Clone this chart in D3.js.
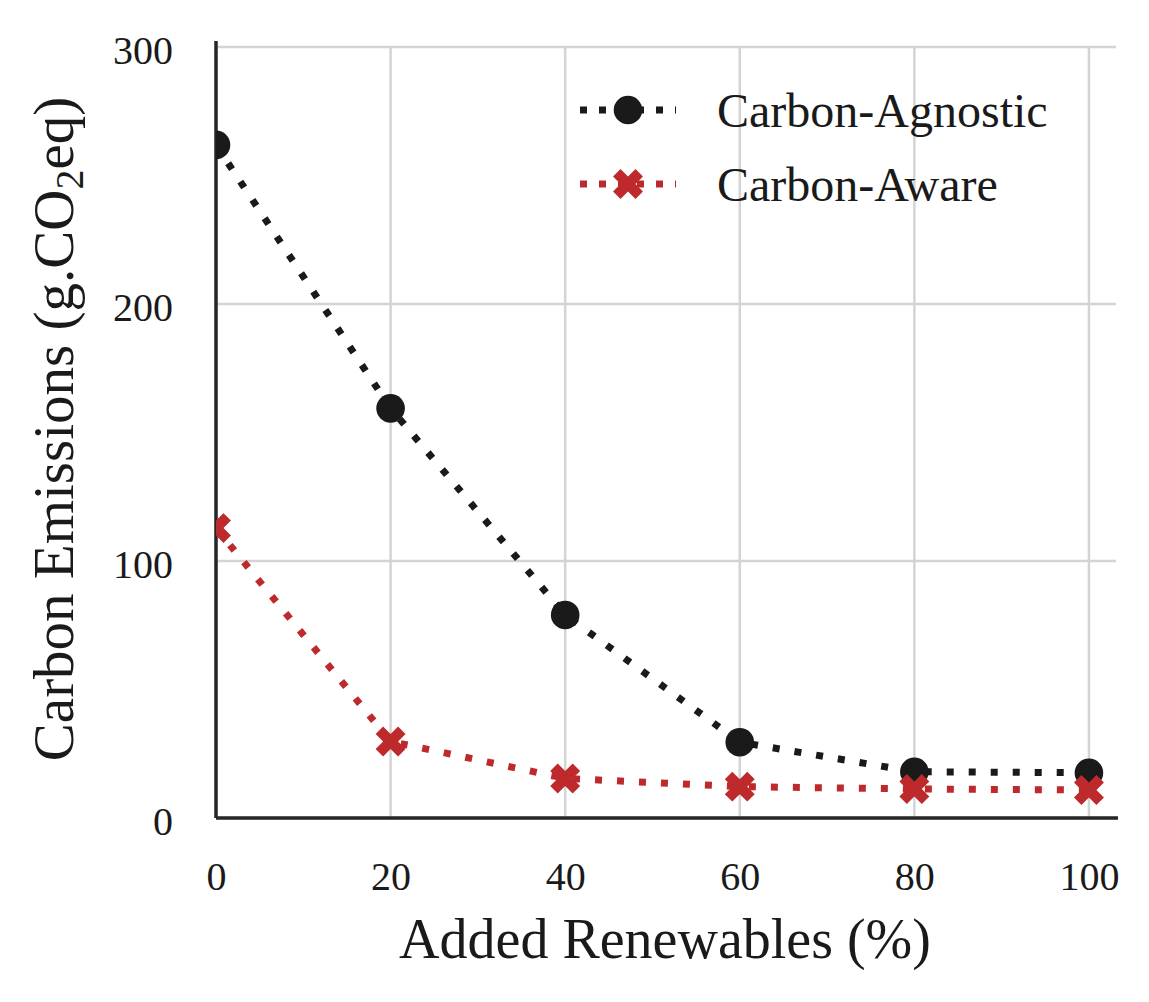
<!DOCTYPE html>
<html>
<head>
<meta charset="utf-8">
<script src="https://cdn.jsdelivr.net/npm/d3@7"></script>
<style>
  body { margin: 0; background: #fff; }
  text { font-family: "Liberation Serif", "DejaVu Serif", serif; fill: #1a1a1a; }
</style>
</head>
<body>
<div id="chart"></div>
<script>
// data
var renewables = [0, 20, 40, 60, 80, 100];
var agnosticVals = [261.9, 159.4, 79.0, 29.5, 18.0, 17.6];
var awareVals = [112.8, 29.8, 15.4, 12.2, 11.3, 10.9];
var seriesNames = ["Carbon-Agnostic", "Carbon-Aware"];
var xTicks = [0, 20, 40, 60, 80, 100];
var yTicks = [0, 100, 200, 300];

var svgWidth = 1149;
var svgHeight = 1002;
var margin = { top: 47, right: 33, bottom: 184, left: 216 };
var width = svgWidth - margin.left - margin.right;
var height = svgHeight - margin.top - margin.bottom;

var black = "#1a1a1a";
var red = "#be2a2c";

var svg = d3.select("#chart")
  .append("svg")
  .attr("width", svgWidth)
  .attr("height", svgHeight);

svg.append("defs").append("clipPath")
  .attr("id", "plotClip")
  .append("rect")
  .attr("width", width)
  .attr("height", height);

var chartGroup = svg.append("g")
  .attr("transform", `translate(${margin.left}, ${margin.top})`);

var xScale = d3.scaleLinear().domain([0, 103.1]).range([0, width]);
var yScale = d3.scaleLinear().domain([0, 300]).range([height, 0]);

// grid
chartGroup.append("g")
  .selectAll("line.vgrid")
  .data(xTicks)
  .enter()
  .append("line")
  .attr("x1", d => xScale(d))
  .attr("x2", d => xScale(d))
  .attr("y1", 0)
  .attr("y2", height)
  .attr("stroke", "#d4d4d4")
  .attr("stroke-width", 2.5);

chartGroup.append("g")
  .selectAll("line.hgrid")
  .data(yTicks)
  .enter()
  .append("line")
  .attr("x1", 0)
  .attr("x2", width)
  .attr("y1", d => yScale(d))
  .attr("y2", d => yScale(d))
  .attr("stroke", "#d4d4d4")
  .attr("stroke-width", 2.5);

// axes (only tick labels, no tick marks)
var bottomAxis = d3.axisBottom(xScale).tickValues(xTicks).tickSize(0).tickPadding(44);
var leftAxis = d3.axisLeft(yScale).tickValues(yTicks).tickSize(0).tickPadding(43);

var xAxis = chartGroup.append("g")
  .attr("transform", `translate(0, ${height})`)
  .call(bottomAxis);
var yAxis = chartGroup.append("g").call(leftAxis);

[xAxis, yAxis].forEach(function(ax) {
  ax.select(".domain").remove();
  ax.selectAll("text")
    .attr("font-family", "Liberation Serif")
    .attr("font-size", 40)
    .attr("fill", black);
});
yAxis.selectAll("text").attr("dy", "0.42em");

// spines
chartGroup.append("line")
  .attr("x1", 0).attr("x2", 0)
  .attr("y1", -6).attr("y2", height)
  .attr("stroke", "#262626").attr("stroke-width", 3.5);
chartGroup.append("line")
  .attr("x1", 0).attr("x2", width + 2)
  .attr("y1", height).attr("y2", height)
  .attr("stroke", "#262626").attr("stroke-width", 3.5);

// series
var series = [
  { name: seriesNames[0], values: agnosticVals, color: black, marker: "circle" },
  { name: seriesNames[1], values: awareVals, color: red, marker: "x" }
];

var line = d3.line()
  .x((d, i) => xScale(renewables[i]))
  .y(d => yScale(d));

var xPath = d3.symbol().type(d3.symbolCross).size(560);

function drawMarker(g, s) {
  if (s.marker === "circle") {
    g.append("circle").attr("r", 14.3).attr("fill", s.color);
  } else {
    g.append("path").attr("d", xPath()).attr("transform", "rotate(45)").attr("fill", s.color);
  }
}

var plotGroup = chartGroup.append("g").attr("clip-path", "url(#plotClip)");

series.forEach(function(s) {
  plotGroup.append("path")
    .datum(s.values)
    .attr("d", line)
    .attr("fill", "none")
    .attr("stroke", s.color)
    .attr("stroke-width", 7)
    .attr("stroke-dasharray", "7,15");
});

series.forEach(function(s) {
  plotGroup.selectAll(null)
    .data(s.values)
    .enter()
    .append("g")
    .attr("transform", (d, i) => `translate(${xScale(renewables[i])}, ${yScale(d)})`)
    .each(function() { drawMarker(d3.select(this), s); });
});

// legend
var legend = svg.append("g").attr("transform", "translate(580, 110)");
series.forEach(function(s, i) {
  var row = legend.append("g").attr("transform", `translate(0, ${i * 74})`);
  row.append("line")
    .attr("x1", 0).attr("x2", 96)
    .attr("y1", 0).attr("y2", 0)
    .attr("stroke", s.color)
    .attr("stroke-width", 7)
    .attr("stroke-dasharray", "7,12");
  var m = row.append("g").attr("transform", "translate(48, 0)");
  drawMarker(m, s);
  row.append("text")
    .attr("x", 137)
    .attr("y", 0)
    .attr("dy", "0.36em")
    .attr("font-size", 48)
    .text(s.name);
});

// axis labels
svg.append("text")
  .attr("x", 665)
  .attr("y", 958)
  .attr("text-anchor", "middle")
  .attr("font-size", 56)
  .text("Added Renewables (%)");

var yLabel = svg.append("text")
  .attr("transform", "translate(73, 429) rotate(-90)")
  .attr("text-anchor", "middle")
  .attr("font-size", 57);
yLabel.append("tspan").text("Carbon Emissions (g.CO");
yLabel.append("tspan").attr("dy", "0.25em").attr("font-size", 40).text("2");
yLabel.append("tspan").attr("dy", "-0.18em").text("eq)");
</script>
</body>
</html>
